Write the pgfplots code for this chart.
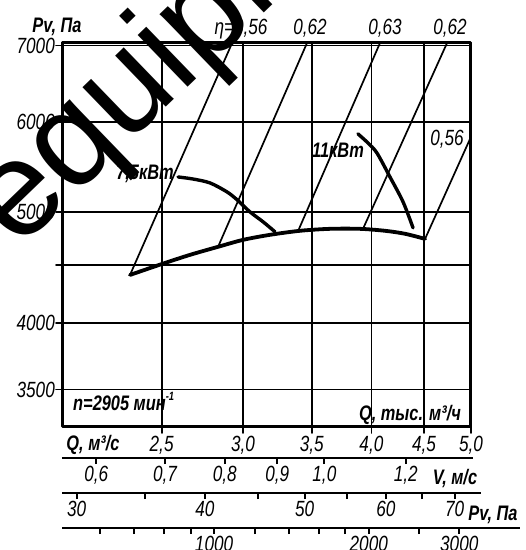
\documentclass[border=0pt]{standalone}
\usepackage{pgfplots}
\pgfplotsset{compat=1.18}
\usepackage{fontspec}
\setmainfont{Liberation Sans}[FakeStretch=0.78]
\newfontfamily\wm{Liberation Sans}
\newcommand{\tf}{\fontsize{22}{24}\selectfont\itshape}
\newcommand{\bfi}{\fontsize{21}{23}\selectfont\bfseries\itshape}
\newcommand{\lab}[4][]{\node[inner sep=0pt,#1] at (#2,{550-#3}) {#4};}
\begin{document}
\begin{tikzpicture}[x=1pt,y=1pt]
\useasboundingbox (0,0) rectangle (526,550);
% main chart
\begin{axis}[at={(62pt,123pt)}, anchor=south west, scale only axis,
  width=409pt, height=384pt, xmode=log, ymode=log,
  xmin=2, xmax=5, ymin=3245, ymax=7035,
  xtick={2.5,3,3.5,4,4.5,5}, xticklabels={{2,5},{3,0},{3,5},{4,0},{4,5},{5,0}},
  ytick={3500,4000,4500,5000,6000,7000}, yticklabels={3500,4000,,5000,6000,7000},
  minor xtick={}, minor ytick={},
  tick pos=left, tick align=outside, major tick length=6pt,
  grid=major, major grid style={black, line width=1.8pt},
  axis line style={line width=3pt}, tick style={black, line width=1.8pt},
  xticklabel style={font=\tf, inner sep=3pt},
  yticklabel style={font=\tf, inner sep=1pt},
  line join=round, line cap=round]
% pressure curve
\addplot[black, line width=3.8pt, smooth] coordinates {
 (2.329,4408) (2.503,4507) (2.664,4590) (2.837,4665) (3.001,4731) (3.187,4779)
 (3.409,4818) (3.646,4837) (3.899,4837) (4.124,4818) (4.313,4789) (4.511,4740)};
% power curves
\addplot[black, line width=3.4pt, smooth] coordinates {
 (2.594,5370) (2.682,5348) (2.786,5306) (2.894,5211) (2.961,5128) (3.047,5005)
 (3.138,4906) (3.223,4808)};
\addplot[black, line width=3.4pt, smooth] coordinates {
 (3.882,5857) (3.970,5751) (4.050,5636) (4.170,5370) (4.294,5107) (4.391,4847)};
% efficiency lines
\addplot[black, line width=1.7pt] coordinates {(2.329,4408) (2.928,7035)};
\addplot[black, line width=1.7pt] coordinates {(2.837,4665) (3.463,7035)};
\addplot[black, line width=1.7pt] coordinates {(3.394,4816) (4.078,7035)};
\addplot[black, line width=1.7pt] coordinates {(3.926,4837) (4.739,7035)};
\addplot[black, line width=1.7pt] coordinates {(4.511,4740) (5.0,5823)};
\end{axis}
% Q, m3/s scale
\begin{axis}[at={(62pt,92pt)}, anchor=south west, scale only axis, width=409pt, height=5pt,
  xmode=log, xmin=0.5556, xmax=1.3889, ymin=0, ymax=1,
  axis y line=none, axis x line*=bottom,
  axis line style={-, line width=2.8pt, shorten >=-2pt}, tick align=outside,
  major tick length=6pt, tick style={black, line width=2pt},
  minor xtick={}, xticklabel style={font=\tf, inner sep=2pt},
  xtick={0.6,0.7,0.8,0.9,1.0,1.2},
  xticklabels={{0,6},{0,7},{0,8},{0,9},{1,0},{1,2}}]
\addplot[draw=none] coordinates {(0.6,0.5)};
\end{axis}
% V, m/s scale
\begin{axis}[at={(62pt,57pt)}, anchor=south west, scale only axis, width=409pt, height=5pt,
  xmode=log, xmin=29.04, xmax=72.6, ymin=0, ymax=1,
  axis y line=none, axis x line*=bottom,
  axis line style={-, line width=2.8pt, shorten >=-10pt}, tick align=outside,
  major tick length=6pt, tick style={black, line width=2pt},
  minor xtick={}, xticklabel style={font=\tf, inner sep=2pt},
  xtick={30,35,40,45,50,55,60,65,70},
  xticklabels={30,,40,,50,,60,,70}]
\addplot[draw=none] coordinates {(40,0.5)};
\end{axis}
% Pv, Pa scale
\begin{axis}[at={(62pt,22pt)}, anchor=south west, scale only axis, width=409pt, height=5pt,
  xmode=log, xmin=506, xmax=3162, ymin=0, ymax=1,
  axis y line=none, axis x line*=bottom,
  axis line style={-, line width=2.8pt, shorten >=-49pt}, tick align=outside,
  major tick length=6pt, tick style={black, line width=2pt},
  minor xtick={}, xticklabel style={font=\tf, inner sep=2pt},
  xtick={600,700,800,900,1000,1200,1400,1600,1800,2000,2500,3000},
  xticklabels={,,,,1000,,,,,2000,,3000}]
\addplot[draw=none] coordinates {(1000,0.5)};
\end{axis}
% texts
\lab{57}{27}{\bfi Pv, Па}
\lab{241}{29}{\tf η=0,56}
\lab{310}{28}{\tf 0,62}
\lab{385}{28}{\tf 0,63}
\lab{450}{28}{\tf 0,62}
\lab{145}{174}{\bfi 7,5кВт}
\lab{338}{150}{\bfi 11кВт}
\lab{447}{139}{\tf 0,56}
\lab[anchor=west]{73}{401}{\bfi n=2905 мин\raisebox{0.9ex}{\fontsize{12}{12}\selectfont -1}}
\lab{410}{415}{\bfi Q, тыс. м³/ч}
\lab{93}{445}{\bfi Q, м³/с}
\lab{455}{479}{\bfi V, м/с}
\lab{493}{515}{\bfi Pv, Па}
% watermark
\node[rotate=44, anchor=base west, inner sep=0pt] at (18,299) {\wm\fontsize{136}{136}\selectfont equipment};
\end{tikzpicture}
\end{document}
